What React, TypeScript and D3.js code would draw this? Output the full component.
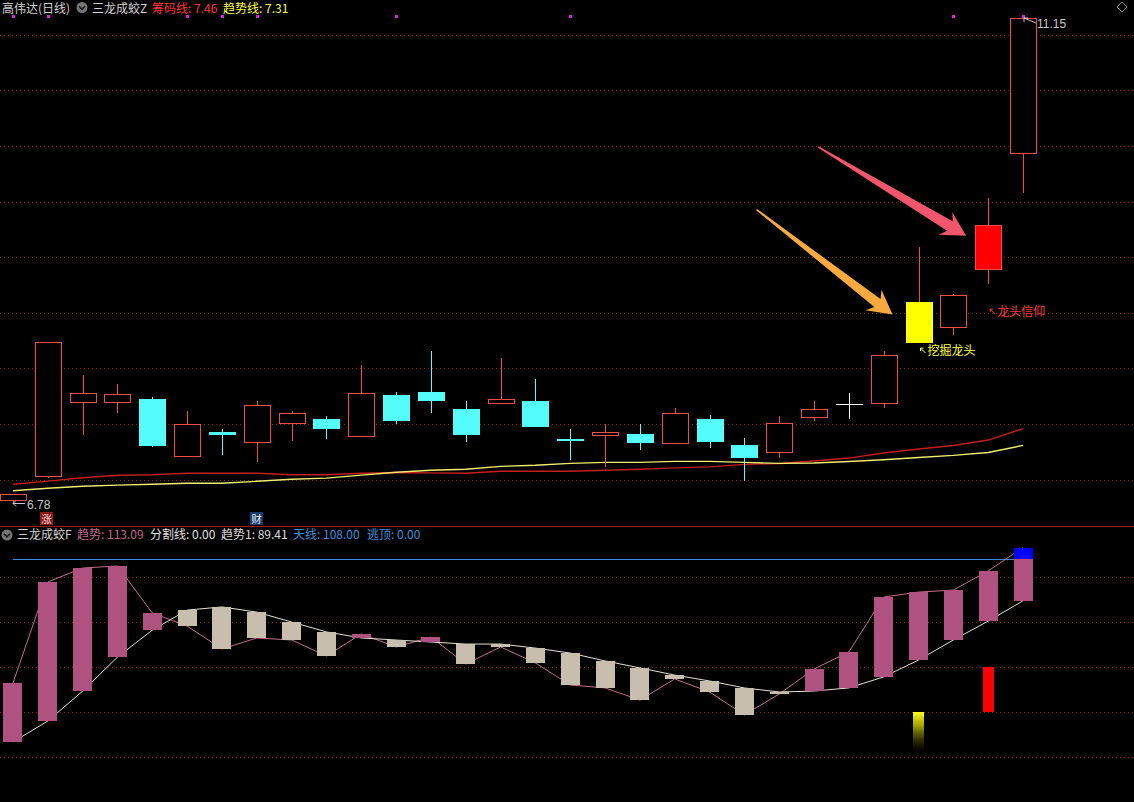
import React from 'react';
import * as d3 from 'd3';

const W = 1134;
const H = 802;

// ---- price panel data (高伟达 日线) ----
const opens = [6.82, 7.03, 7.70, 7.70, 7.72, 7.21, 7.43, 7.34, 7.51, 7.54, 7.39, 7.76, 7.79, 7.63, 7.69, 7.71, 7.36, 7.40, 7.41, 7.33, 7.54, 7.31, 7.25, 7.56, 7.68, 7.69, 8.23, 8.37, 8.89, 9.94];
const closes = [6.87, 8.24, 7.78, 7.77, 7.30, 7.50, 7.40, 7.67, 7.60, 7.45, 7.78, 7.53, 7.71, 7.40, 7.72, 7.47, 7.35, 7.43, 7.33, 7.60, 7.34, 7.19, 7.51, 7.63, 7.68, 8.12, 8.60, 8.66, 9.29, 11.15];
const highs = [6.87, 8.24, 7.94, 7.86, 7.74, 7.62, 7.45, 7.71, 7.62, 7.57, 8.03, 7.79, 8.16, 7.71, 8.09, 7.90, 7.45, 7.50, 7.50, 7.64, 7.58, 7.37, 7.57, 7.71, 7.78, 8.16, 9.09, 8.67, 9.53, 11.15];
const lows = [6.78, 7.01, 7.40, 7.60, 7.29, 7.20, 7.22, 7.16, 7.35, 7.36, 7.38, 7.50, 7.60, 7.34, 7.69, 7.47, 7.18, 7.11, 7.27, 7.33, 7.28, 6.99, 7.19, 7.53, 7.54, 7.64, 8.23, 8.30, 8.76, 9.58];
const chipLine = [6.957, 6.986, 7.016, 7.038, 7.043, 7.056, 7.056, 7.056, 7.043, 7.043, 7.056, 7.063, 7.060, 7.056, 7.074, 7.074, 7.074, 7.083, 7.092, 7.105, 7.114, 7.136, 7.144, 7.166, 7.193, 7.238, 7.274, 7.306, 7.355, 7.457];
const trendLine = [6.899, 6.921, 6.939, 6.950, 6.957, 6.966, 6.966, 6.984, 7.002, 7.013, 7.040, 7.065, 7.083, 7.092, 7.118, 7.128, 7.145, 7.154, 7.154, 7.163, 7.163, 7.154, 7.145, 7.148, 7.162, 7.178, 7.198, 7.217, 7.243, 7.307];
const priceGrid = [7.0, 7.5, 8.0, 8.5, 9.0, 9.5, 10.0, 10.5, 11.0];
const priceDomain = [6.78, 11.15];
const topDots = [0, 1, 5, 6, 7, 11, 16, 27, 29];
const digIndex = 26; // 挖掘龙头
const faithIndex = 28; // 龙头信仰
const digLabelPrice = 8.146;
const faithLabelPrice = 8.497;
const zhangIndex = 1; // 涨
const caiIndex = 7; // 财

// ---- indicator panel data (三龙成蛟F) ----
const trendA = [52.9, 97.8, 104.0, 104.9, 84.0, 78.2, 68.0, 72.9, 72.0, 64.9, 74.7, 68.9, 73.3, 61.3, 68.9, 61.8, 52.0, 50.7, 45.3, 54.7, 48.9, 38.7, 48.0, 59.1, 66.7, 91.1, 93.3, 94.2, 102.7, 113.09];
const trendB = [26.7, 36.0, 49.3, 64.4, 76.4, 85.3, 86.7, 84.4, 80.0, 75.6, 72.9, 72.0, 71.1, 70.2, 70.2, 68.4, 66.2, 62.7, 59.6, 56.4, 53.8, 50.7, 48.9, 49.3, 50.7, 55.6, 63.1, 72.0, 80.4, 89.41];
const skyLine = 108.0;
const splitLine = 0.0;
const escapeTop = 0.0;
const lowerGrid = [20, 40, 60, 80, 100];
const yellowSignalRange = [22, 40];
const redSignalRange = [40, 60];

const N = closes.length;
const xs = d3.scalePoint<number>().domain(d3.range(N)).range([13, 1023]);
const yTop = d3.scaleLinear().domain(priceDomain).range([504, 18]);
const yLow = d3.scaleLinear().domain([0, 100]).range([802, 577]);

const CJK = "'Noto Sans CJK SC', 'Noto Sans', sans-serif";
const NUM = "'Liberation Sans', Arial, sans-serif";
const UP = '#ee4c4c';
const DOWN = '#54fcfc';
const GRID = '#8a2222';

const r = (v: number) => Math.round(v);

function Candle({ i }: { i: number }) {
  const cx = xs(i) as number;
  const left = r(cx - 13);
  const wx = r(cx) + 0.5;
  const o = opens[i], c = closes[i], h = highs[i], l = lows[i];
  const topP = Math.max(o, c), botP = Math.min(o, c);
  const yT = r(yTop(topP));
  const yB = r(yTop(botP));
  const yH = r(yTop(h));
  const yL = r(yTop(l));
  if (i === digIndex || i === faithIndex) {
    const fill = i === digIndex ? '#ffff00' : '#ff0000';
    return (
      <g>
        <line x1={wx} x2={wx} y1={yH} y2={yT} stroke={UP} />
        <line x1={wx} x2={wx} y1={yB} y2={yL} stroke={UP} />
        {i === digIndex ? (
          <rect x={left} y={yT} width={27} height={yB - yT} fill={fill} />
        ) : (
          <rect x={left + 0.5} y={yT + 0.5} width={26} height={yB - yT} fill={fill} stroke={UP} />
        )}
      </g>
    );
  }
  if (c > o) {
    return (
      <g>
        <line x1={wx} x2={wx} y1={yH} y2={yT} stroke={UP} />
        <line x1={wx} x2={wx} y1={yB} y2={yL} stroke={UP} />
        <rect x={left + 0.5} y={yT + 0.5} width={26} height={Math.max(yB - yT, 1)} fill="#000" stroke={UP} />
      </g>
    );
  }
  const col = c < o ? DOWN : '#ffffff';
  return (
    <g>
      <line x1={wx} x2={wx} y1={yH} y2={yL} stroke={col} />
      <rect x={left} y={yT} width={27} height={Math.max(yB - yT, 1)} fill={col} />
    </g>
  );
}

function BigArrow({ tip, dx, dy, shaftW, headLen, headW, color }: any) {
  const [tx, ty] = tip;
  const sx = tx + dx, sy = ty + dy;
  const L = Math.hypot(dx, dy);
  const ux = -dx / L, uy = -dy / L; // direction tail -> tip
  const nx = -uy, ny = ux;
  const P = (a: number, b: number) => [sx + ux * a + nx * b, sy + uy * a + ny * b];
  const pts = [
    P(0, -0.8),
    P(L - headLen + 5, -shaftW / 2),
    P(L - headLen, -headW / 2),
    P(L, 0),
    P(L - headLen, headW / 2),
    P(L - headLen + 5, shaftW / 2),
    P(0, 0.8),
  ];
  return <path d={d3.line()(pts as [number, number][]) + 'Z'} fill={color} />;
}

function Chevron({ cx, cy }: { cx: number; cy: number }) {
  return (
    <g>
      <circle cx={cx} cy={cy} r={5.5} fill="#767676" />
      <path d={`M${cx - 3},${cy - 1.2} L${cx},${cy + 1.8} L${cx + 3},${cy - 1.2}`} stroke="#1a1a1a" strokeWidth={1.6} fill="none" />
    </g>
  );
}

export default function App() {
  const chipPath = d3.line<number>().x((_, i) => xs(i) as number).y((d) => yTop(d))(chipLine) || '';
  const trendPath = d3.line<number>().x((_, i) => xs(i) as number).y((d) => yTop(d))(trendLine) || '';
  const aPath = d3.line<number>().x((_, i) => xs(i) as number).y((d) => yLow(d))(trendA) || '';
  const bPath = d3.line<number>().x((_, i) => xs(i) as number).y((d) => yLow(d))(trendB) || '';

  const hiIdx = d3.maxIndex(highs);
  const loIdx = d3.minIndex(lows);
  const hx = r(xs(hiIdx) as number) + 1, hy = r(yTop(highs[hiIdx]));
  const lx = r(xs(loIdx) as number), ly = r(yTop(lows[loIdx]));

  const digX = xs(digIndex) as number;
  const faithX = xs(faithIndex) as number;

  return (
    <svg width={W} height={H} style={{ position: 'fixed', left: 0, top: 0, background: '#000' }}>
      <defs>
        <linearGradient id="ysig" x1="0" y1="0" x2="0" y2="1">
          <stop offset="0" stopColor="#ffff20" stopOpacity={1} />
          <stop offset="0.35" stopColor="#c8c800" stopOpacity={0.8} />
          <stop offset="1" stopColor="#404000" stopOpacity={0} />
        </linearGradient>
      </defs>
      <rect x={0} y={0} width={W} height={H} fill="#000" />

      {/* price grid */}
      {priceGrid.map((p) => (
        <line key={p} x1={0} x2={W} y1={r(yTop(p)) + 0.5} y2={r(yTop(p)) + 0.5} stroke={GRID} strokeDasharray="1,3" />
      ))}
      {/* lower grid */}
      {lowerGrid.map((v) => (
        <line key={v} x1={0} x2={W} y1={r(yLow(v)) + 0.5} y2={r(yLow(v)) + 0.5} stroke={GRID} strokeDasharray="1,3" />
      ))}

      {/* moving lines */}
      <path d={chipPath} fill="none" stroke="#c41e1e" strokeWidth={1.4} />
      <path d={trendPath} fill="none" stroke="#f0ec70" strokeWidth={1.4} />

      {/* candles */}
      {d3.range(N).map((i) => (
        <Candle key={i} i={i} />
      ))}

      {/* top signal dots */}
      {topDots.map((i) => (
        <rect key={i} x={r(xs(i) as number) - 1} y={15} width={3} height={3} fill="#e020e0" />
      ))}

      {/* max / min labels */}
      <g stroke="#c8c8c8" fill="none" strokeWidth={1}>
        <path d={`M${hx},${hy} L${hx + 12},${hy + 5}`} />
        <path d={`M${hx},${hy} L${hx + 4},${hy} M${hx},${hy} L${hx},${hy + 4}`} />
        <path d={`M${lx},${ly - 0.5} L${lx + 12},${ly - 0.5}`} />
        <path d={`M${lx},${ly - 0.5} L${lx + 3},${ly - 3.5} M${lx},${ly - 0.5} L${lx + 3},${ly + 2.5}`} />
      </g>
      <text x={hx + 13} y={hy + 10} fill="#c8c8c8" fontFamily={NUM} fontSize={12}>{highs[hiIdx].toFixed(2)}</text>
      <text x={lx + 14} y={ly + 5} fill="#c8c8c8" fontFamily={NUM} fontSize={12}>{lows[loIdx].toFixed(2)}</text>

      {/* big arrows */}
      <BigArrow tip={[digX - 26, yTop(closes[digIndex]) + 13]} dx={-136} dy={-105} shaftW={10} headLen={24} headW={26} color="#f8aa3e" />
      <BigArrow tip={[faithX - 22, yTop(closes[faithIndex]) + 11]} dx={-148} dy={-89} shaftW={11} headLen={24} headW={26} color="#f2566c" />

      {/* DRAWTEXT labels */}
      <g>
        <path d={`M${digX + 2},${yTop(digLabelPrice) - 4} L${digX + 7},${yTop(digLabelPrice) + 1} M${digX + 2},${yTop(digLabelPrice) - 4} L${digX + 5},${yTop(digLabelPrice) - 4} M${digX + 2},${yTop(digLabelPrice) - 4} L${digX + 2},${yTop(digLabelPrice) - 1}`} stroke="#ffff40" fill="none" />
        <text x={digX + 9} y={yTop(digLabelPrice)} dominantBaseline="middle" fill="#ffff40" fontFamily={CJK} fontSize={12}>挖掘龙头</text>
        <path d={`M${faithX + 2},${yTop(faithLabelPrice) - 4} L${faithX + 7},${yTop(faithLabelPrice) + 1} M${faithX + 2},${yTop(faithLabelPrice) - 4} L${faithX + 5},${yTop(faithLabelPrice) - 4} M${faithX + 2},${yTop(faithLabelPrice) - 4} L${faithX + 2},${yTop(faithLabelPrice) - 1}`} stroke="#ff3c3c" fill="none" />
        <text x={faithX + 9} y={yTop(faithLabelPrice)} dominantBaseline="middle" fill="#ff3c3c" fontFamily={CJK} fontSize={12}>龙头信仰</text>
      </g>

      {/* 涨 / 财 badges */}
      <rect x={r(xs(zhangIndex) as number) - 8} y={512} width={13} height={13} fill="#8c1a1a" />
      <text x={r(xs(zhangIndex) as number) - 1.5} y={518.5} dominantBaseline="central" textAnchor="middle" fill="#f0d0d0" fontFamily={CJK} fontSize={10.5}>涨</text>
      <rect x={r(xs(caiIndex) as number) - 7} y={512} width={13} height={13} fill="#1a3a68" />
      <text x={r(xs(caiIndex) as number) - 0.5} y={518.5} dominantBaseline="central" textAnchor="middle" fill="#e8eeff" fontFamily={CJK} fontSize={10.5}>财</text>

      {/* top header */}
      <g fontFamily={CJK} fontSize={12}>
        <text x={2} y={13} fill="#d4d4d4">高伟达(日线)</text>
        <text x={92} y={13} fill="#d4d4d4">三龙成蛟Z</text>
        <text x={152} y={13} fill="#ff3434">筹码线: {chipLine[N - 1].toFixed(2)}</text>
        <text x={223} y={13} fill="#ffff48">趋势线: {trendLine[N - 1].toFixed(2)}</text>
      </g>
      <Chevron cx={82} cy={7.5} />
      <path d="M1122,2 L1127,7 L1122,12 L1117,7 Z" fill="none" stroke="#8a8a8a" />

      {/* panel separator */}
      <line x1={0} x2={W} y1={526.5} y2={526.5} stroke="#a81414" />

      {/* lower header */}
      <Chevron cx={7} cy={535} />
      <g fontFamily={CJK} fontSize={12}>
        <text x={17} y={539} fill="#d4d4d4">三龙成蛟F</text>
        <text x={77} y={539} fill="#c0688e">趋势: {trendA[N - 1].toFixed(2)}</text>
        <text x={150} y={539} fill="#e0e0e0">分割线: {splitLine.toFixed(2)}</text>
        <text x={221} y={539} fill="#dcdcdc">趋势1: {trendB[N - 1].toFixed(2)}</text>
        <text x={293} y={539} fill="#3d8fdc">天线: {skyLine.toFixed(2)}</text>
        <text x={367} y={539} fill="#3d8fdc">逃顶: {escapeTop.toFixed(2)}</text>
      </g>

      {/* 天线 */}
      <line x1={xs(0)} x2={xs(N - 1)} y1={r(yLow(skyLine)) + 0.5} y2={r(yLow(skyLine)) + 0.5} stroke="#3a8ad8" />
      {/* trend lines */}
      <path d={aPath} fill="none" stroke="#c0708f" strokeWidth={1} />
      <path d={bPath} fill="none" stroke="#e6e0d6" strokeWidth={1} />

      {/* trend bars */}
      {d3.range(N).map((i) => {
        const cx = xs(i) as number;
        const a = trendA[i], b = trendB[i];
        const top = r(yLow(Math.max(a, b)));
        const bot = r(yLow(Math.min(a, b)));
        const col = a >= b ? '#b0527f' : '#c8bead';
        const x0 = r(cx - 9.5);
        const bars = [<rect key="b" x={x0} y={top} width={19} height={Math.max(bot - top, 2)} fill={col} />];
        if (Math.max(a, b) > skyLine) {
          const sky = r(yLow(skyLine));
          bars.push(<rect key="s" x={x0} y={top} width={19} height={sky - top} fill="#0000ff" />);
        }
        return <g key={i}>{bars}</g>;
      })}

      {/* signal bars */}
      <rect x={r((xs(digIndex) as number) - 5.5)} y={yLow(yellowSignalRange[1])} width={11} height={yLow(yellowSignalRange[0]) - yLow(yellowSignalRange[1])} fill="url(#ysig)" />
      <rect x={r((xs(faithIndex) as number) - 5.5)} y={yLow(redSignalRange[1])} width={11} height={yLow(redSignalRange[0]) - yLow(redSignalRange[1])} fill="#ff0000" />
    </svg>
  );
}
